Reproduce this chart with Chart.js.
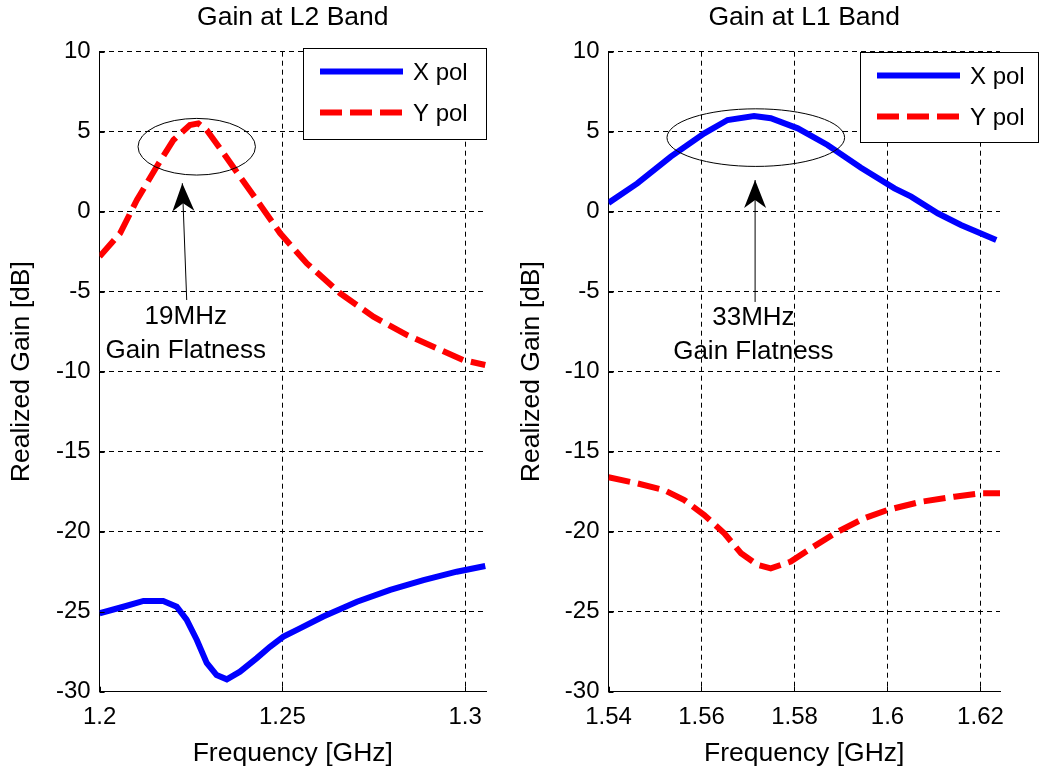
<!DOCTYPE html>
<html>
<head>
<meta charset="utf-8">
<script src="https://cdn.jsdelivr.net/npm/chart.js@4.4.1/dist/chart.umd.min.js"></script>
<style>
body{margin:0;background:#fff;width:1039px;height:774px;overflow:hidden;position:relative}
canvas{position:absolute;top:0}
#l2{left:0}
#l1{left:510px}
</style>
</head>
<body>
<canvas id="l2" width="510" height="774"></canvas>
<canvas id="l1" width="529" height="774"></canvas>
<script>
// ---- data (GHz / dB) ----
const l2FreqX = [1.2, 1.2065, 1.212, 1.2174, 1.2211, 1.2238, 1.2266, 1.2293, 1.232, 1.2348, 1.2384, 1.243, 1.2466, 1.2503, 1.2548, 1.2612, 1.2704, 1.2795, 1.2886, 1.2977, 1.3055]
const l2GainX = [-25.1, -24.69, -24.33, -24.33, -24.69, -25.5, -26.77, -28.2, -28.96, -29.23, -28.75, -27.9, -27.19, -26.56, -26.04, -25.3, -24.38, -23.64, -23.02, -22.5, -22.14]
const l2FreqY = [1.2, 1.2056, 1.2102, 1.2156, 1.2202, 1.2247, 1.227, 1.2293, 1.2339, 1.2384, 1.243, 1.2494, 1.2567, 1.2658, 1.2749, 1.284, 1.2932, 1.2995, 1.3055]
const l2GainY = [-2.8, -1.35, 0.73, 2.81, 4.48, 5.42, 5.52, 5.1, 3.65, 2.19, 0.73, -1.35, -3.23, -5.1, -6.56, -7.7, -8.64, -9.27, -9.58]

const l1FreqX = [1.54, 1.5462, 1.5534, 1.5606, 1.5656, 1.5713, 1.5749, 1.5807, 1.5871, 1.5943, 1.6015, 1.6051, 1.6108, 1.6158, 1.6234]
const l1GainX = [0.55, 1.77, 3.44, 4.9, 5.73, 5.98, 5.84, 5.21, 4.17, 2.75, 1.46, 0.94, -0.1, -0.83, -1.77]
const l1FreqY = [1.54, 1.5462, 1.5519, 1.5563, 1.5606, 1.5649, 1.5685, 1.5721, 1.5749, 1.5792, 1.5835, 1.5893, 1.595, 1.6, 1.6072, 1.6144, 1.6201, 1.6242]
const l1GainY = [-16.6, -16.98, -17.39, -18.02, -18.96, -20.1, -21.35, -22.08, -22.29, -21.87, -21.04, -20.0, -19.16, -18.64, -18.13, -17.81, -17.6, -17.6]

const seriesNames = ["X pol", "Y pol"]
const gainTicks = [-30, -25, -20, -15, -10, -5, 0, 5, 10]
const gainTickLabels = ["-30", "-25", "-20", "-15", "-10", "-5", "0", "5", "10"]
const l2FreqTicks = [1.2, 1.25, 1.3]
const l2FreqTickLabels = ["1.2", "1.25", "1.3"]
const l1FreqTicks = [1.54, 1.56, 1.58, 1.6, 1.62]
const l1FreqTickLabels = ["1.54", "1.56", "1.58", "1.6", "1.62"]

const FONT = '"Liberation Sans", Arial, sans-serif'

function pts(xs, ys){ return xs.map((x,i)=>({x:x, y:ys[i]})) }

// matlab-ish extras: inward ticks, title, ellipse + arrow note, boxed legend
const matlabLook = {
  id: "matlabLook",
  afterDraw(chart, args, o){
    const ctx = chart.ctx, a = chart.chartArea
    const xs = chart.scales.x, ys = chart.scales.y
    ctx.save()
    ctx.strokeStyle = "#000"
    ctx.lineWidth = 1
    ctx.setLineDash([])
    ctx.beginPath()
    xs.ticks.forEach(t=>{
      const px = Math.round(xs.getPixelForValue(t.value)) + 0.5
      ctx.moveTo(px, a.bottom); ctx.lineTo(px, a.bottom - 5)
    })
    ys.ticks.forEach(t=>{
      const py = Math.round(ys.getPixelForValue(t.value)) + 0.5
      ctx.moveTo(a.left, py); ctx.lineTo(a.left + 5, py)
    })
    ctx.stroke()

    // title
    ctx.fillStyle = "#000"
    ctx.font = "26.5px " + FONT
    ctx.textAlign = "center"
    ctx.textBaseline = "middle"
    ctx.fillText(o.title, (a.left + a.right) / 2, 18)

    // note ellipse
    const n = o.note
    const cx = xs.getPixelForValue(n.ex), cy = ys.getPixelForValue(n.ey)
    const rx = Math.abs(xs.getPixelForValue(n.ex + n.erx) - cx)
    const ry = Math.abs(ys.getPixelForValue(n.ey + n.ery) - cy)
    ctx.beginPath()
    ctx.ellipse(cx, cy, rx, ry, 0, 0, Math.PI * 2)
    ctx.stroke()

    // arrow
    const tx = xs.getPixelForValue(n.tipX), ty = ys.getPixelForValue(n.tipY)
    const bx = xs.getPixelForValue(n.tailX), by = ys.getPixelForValue(n.tailY)
    ctx.beginPath()
    ctx.moveTo(bx, by); ctx.lineTo(tx, ty)
    ctx.stroke()
    const ang = Math.atan2(ty - by, tx - bx)
    const ux = Math.cos(ang), uy = Math.sin(ang)
    const vx = -uy, vy = ux
    ctx.beginPath()
    ctx.moveTo(tx, ty)
    ctx.lineTo(tx - ux*28 + vx*11, ty - uy*28 + vy*11)
    ctx.lineTo(tx - ux*20, ty - uy*20)
    ctx.lineTo(tx - ux*28 - vx*11, ty - uy*28 - vy*11)
    ctx.closePath()
    ctx.fill()

    ctx.font = "26px " + FONT
    const lx = xs.getPixelForValue(n.textX)
    ctx.fillText(n.line1, lx, ys.getPixelForValue(n.text1Y))
    ctx.fillText(n.line2, lx, ys.getPixelForValue(n.text2Y))

    // legend
    const L = o.legend
    ctx.fillStyle = "#fff"
    ctx.fillRect(L.x, L.y, L.w, L.h)
    ctx.strokeStyle = "#000"
    ctx.lineWidth = 1
    ctx.strokeRect(L.x + 0.5, L.y + 0.5, L.w, L.h)
    ctx.font = "24px " + FONT
    ctx.textAlign = "left"
    chart.data.datasets.forEach((ds, i)=>{
      const yy = L.y + 23.5 + i * 41
      ctx.save()
      ctx.strokeStyle = ds.borderColor
      ctx.lineWidth = ds.borderWidth
      ctx.setLineDash(ds.borderDash || [])
      ctx.beginPath()
      ctx.moveTo(L.x + 17, yy); ctx.lineTo(L.x + 100, yy)
      ctx.stroke()
      ctx.restore()
      ctx.fillStyle = "#000"
      ctx.fillText(ds.label, L.x + 110, yy + 1.5)
    })
    ctx.restore()
  }
}

function makeChart(id, c){
  const tickFont = {family: FONT, size: 24}
  const titleFont = {family: FONT, size: 26.5}
  return new Chart(document.getElementById(id), {
    type: "line",
    data: {
      datasets: [
        {label: seriesNames[0], data: c.xPol, borderColor: "#0000ff", borderWidth: 6, pointRadius: 0, tension: 0, fill: false},
        {label: seriesNames[1], data: c.yPol, borderColor: "#ff0000", borderWidth: 6, borderDash: [22, 8], borderCapStyle: "butt", pointRadius: 0, tension: 0, fill: false}
      ]
    },
    options: {
      responsive: false,
      animation: false,
      devicePixelRatio: 1,
      layout: {padding: {top: 51.7, right: c.padRight, left: 0, bottom: 0}},
      plugins: {
        legend: {display: false},
        title: {display: false},
        tooltip: {enabled: false},
        matlabLook: {title: c.title, note: c.note, legend: c.legend}
      },
      scales: {
        x: {
          type: "linear",
          min: c.xMin, max: c.xMax,
          afterBuildTicks: s=>{ s.ticks = c.xTicks.map(v=>({value: v})) },
          afterFit: s=>{ s.height = 82.3 },
          ticks: {autoSkip: false, maxRotation: 0, padding: 11, color: "#000", font: tickFont,
                  callback: (v, i)=>c.xLabels[i]},
          grid: {color: "#000", lineWidth: 1, drawTicks: false},
          border: {display: true, color: "#000", width: 1, dash: [5, 4]},
          title: {display: true, text: "Frequency [GHz]", color: "#000", font: titleFont, padding: {top: 0, bottom: 4}}
        },
        y: {
          type: "linear",
          min: -30, max: 10,
          afterBuildTicks: s=>{ s.ticks = gainTicks.map(v=>({value: v})) },
          afterFit: s=>{ s.width = c.yWidth },
          ticks: {autoSkip: false, padding: 9, color: "#000", font: tickFont,
                  callback: (v, i)=>gainTickLabels[i]},
          grid: {color: "#000", lineWidth: 1, drawTicks: false},
          border: {display: true, color: "#000", width: 1, dash: [5, 4]},
          title: {display: true, text: "Realized Gain [dB]", color: "#000", font: titleFont, padding: {top: 6, bottom: 0}}
        }
      }
    },
    plugins: [matlabLook]
  })
}

makeChart("l2", {
  title: "Gain at L2 Band",
  xPol: pts(l2FreqX, l2GainX),
  yPol: pts(l2FreqY, l2GainY),
  xMin: 1.2, xMax: 1.3057,
  xTicks: l2FreqTicks, xLabels: l2FreqTickLabels,
  yWidth: 99.6, padRight: 24,
  note: {ex: 1.22657, ey: 4.06, erx: 0.01606, ery: 1.77,
         tipX: 1.22263, tipY: 1.78, tailX: 1.22383, tailY: -5.52,
         textX: 1.22356, text1Y: -6.56, text2Y: -8.69, line1: "19MHz", line2: "Gain Flatness"},
  legend: {x: 303, y: 48, w: 183, h: 91}
})

makeChart("l1", {
  title: "Gain at L1 Band",
  xPol: pts(l1FreqX, l1GainX),
  yPol: pts(l1FreqY, l1GainY),
  xMin: 1.54, xMax: 1.6242,
  xTicks: l1FreqTicks, xLabels: l1FreqTickLabels,
  yWidth: 98.5, padRight: 39,
  note: {ex: 1.57168, ey: 4.63, erx: 0.0191, ery: 1.8,
         tipX: 1.57153, tipY: 1.98, tailX: 1.57153, tailY: -5.64,
         textX: 1.57116, text1Y: -6.64, text2Y: -8.77, line1: "33MHz", line2: "Gain Flatness"},
  legend: {x: 350, y: 52, w: 178, h: 90}
})
</script>
</body>
</html>
